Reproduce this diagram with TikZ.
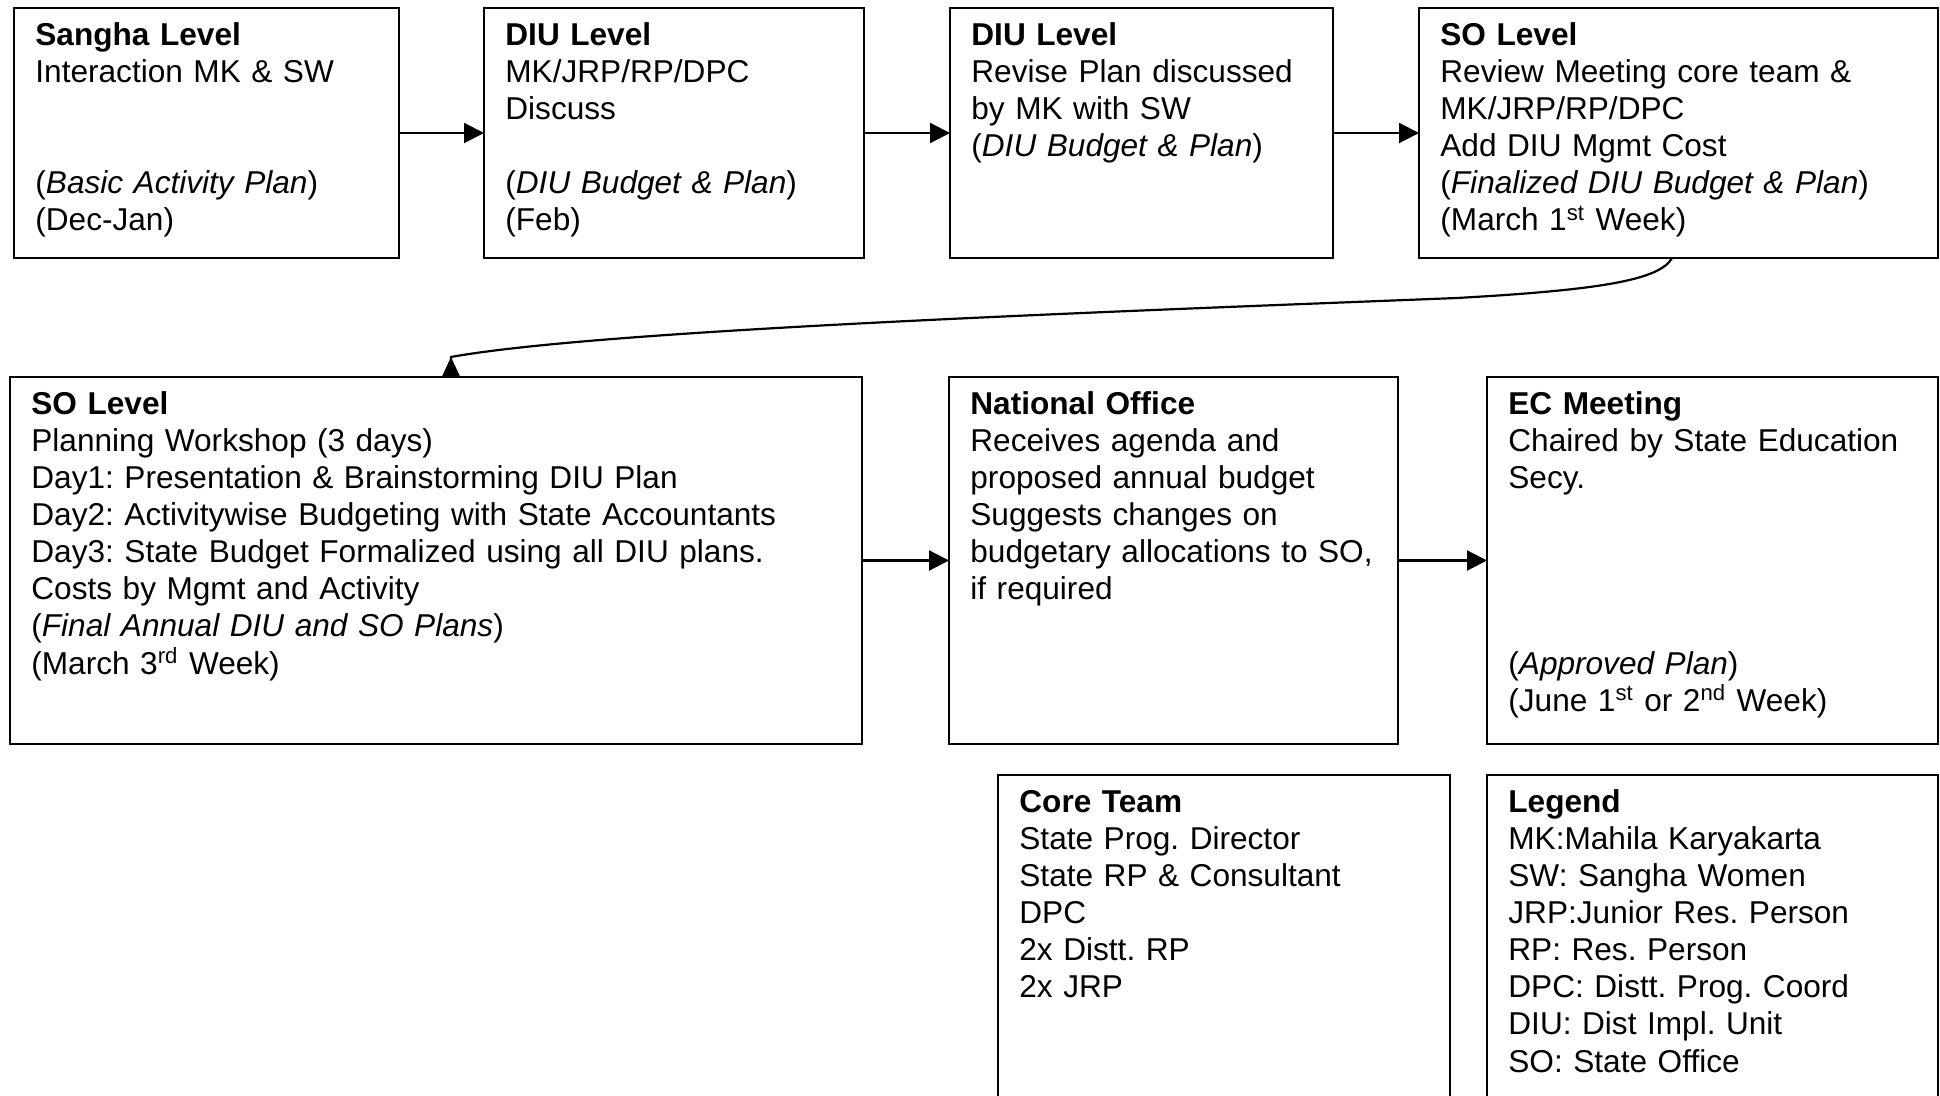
\documentclass[tikz,border=0pt]{standalone}
\usepackage{fontspec}
\setmainfont{Liberation Sans}
\usetikzlibrary{arrows.meta,calc}
\frenchspacing

% one unit = one pixel of the 1940 x 1096 sheet, y running downwards
\tikzset{
  stage/.style={draw=black, line width=1.2pt, rectangle, inner sep=0pt,
    outer sep=0pt, anchor=north west},
  stagetext/.style={anchor=north west, inner sep=0pt, align=left,
    font=\fontsize{15.8}{18.55}\selectfont},
  flow/.style={line width=1.1pt, -{Triangle[length=10pt,width=10pt]}},
  backflow/.style={line width=1.1pt, -{Triangle[reversed,length=10pt,width=9pt]}},
}

% \stagebox{name}{x1}{y1}{x2}{y2}{lines}
\newcommand\stagebox[6]{%
  \pgfmathsetmacro\stagew{(#4-#2)*0.5}%
  \pgfmathsetmacro\stageh{(#5-#3)*0.5}%
  \pgfmathsetmacro\stagetw{(#4-#2-24)*0.5}%
  \node[stage, minimum width=\stagew pt, minimum height=\stageh pt] (#1) at (#2,#3) {};
  \node[stagetext, text width=\stagetw pt] (#1-text) at ($(#1.north west)+(21,11)$) {\strut #6};
}
\newcommand\gapline{\mbox{}}

\begin{document}
\begin{tikzpicture}[x=0.5pt, y=-0.5pt]
\useasboundingbox (0,0) rectangle (1940,1096);
\clip (0,0) rectangle (1940,1096);

% first row
\stagebox{sangha}{14}{8}{399}{258}{\textbf{Sangha Level}\\
  Interaction MK \& SW\\ \gapline\\ \gapline\\
  (\textit{Basic Activity Plan})\\
  (Dec-Jan)}
\stagebox{diua}{484}{8}{864}{258}{\textbf{DIU Level}\\
  MK/JRP/RP/DPC\\
  Discuss\\ \gapline\\
  (\textit{DIU Budget \& Plan})\\
  (Feb)}
\stagebox{diub}{950}{8}{1333}{258}{\textbf{DIU Level}\\
  Revise Plan discussed\\
  by MK with SW\\
  (\textit{DIU Budget \& Plan})}
\stagebox{soa}{1419}{8}{1938}{258}{\textbf{SO Level}\\
  Review Meeting core team \&\\
  MK/JRP/RP/DPC\\
  Add DIU Mgmt Cost\\
  (\textit{Finalized DIU Budget \& Plan})\\
  (March 1\textsuperscript{st} Week)}

% second row
\stagebox{sob}{10}{377}{862}{744}{\textbf{SO Level}\\
  Planning Workshop (3 days)\\
  Day1: Presentation \& Brainstorming DIU Plan\\
  Day2: Activitywise Budgeting with State Accountants\\
  Day3: State Budget Formalized using all DIU plans.\\
  Costs by Mgmt and Activity\\
  (\textit{Final Annual DIU and SO Plans})\\
  (March 3\textsuperscript{rd} Week)}
\stagebox{natoff}{949}{377}{1398}{744}{\textbf{National Office}\\
  Receives agenda and\\
  proposed annual budget\\
  Suggests changes on\\
  budgetary allocations to SO,\\
  if required}
\stagebox{ec}{1487}{377}{1938}{744}{\textbf{EC Meeting}\\
  Chaired by State Education\\
  Secy.\\ \gapline\\ \gapline\\ \gapline\\ \gapline\\
  (\textit{Approved Plan})\\
  (June 1\textsuperscript{st} or 2\textsuperscript{nd} Week)}

% third row
\stagebox{core}{998}{775}{1450}{1130}{\textbf{Core Team}\\
  State Prog. Director\\
  State RP \& Consultant\\
  DPC\\
  2x Distt. RP\\
  2x JRP}
\stagebox{legend}{1487}{775}{1938}{1130}{\textbf{Legend}\\
  MK:Mahila Karyakarta\\
  SW: Sangha Women\\
  JRP:Junior Res. Person\\
  RP: Res. Person\\
  DPC: Distt. Prog. Coord\\
  DIU: Dist Impl. Unit\\
  SO: State Office}

% connectors
\draw[flow] (sangha) -- (diua);
\draw[flow] (diua) -- (diub);
\draw[flow] (diub) -- (soa);
\draw[flow] (sob) -- (natoff);
\draw[flow] (natoff) -- (ec);

\coordinate (cstart) at ($(soa.south west)+(253,0)$);
\coordinate (cmid) at (1457,298);
\coordinate (cend) at ($(sob.north west)+(441,0)$);
\coordinate (capex) at ($(cend)+(0,-20)$);
\draw[backflow] (cstart) .. controls +(-12,22) and +(143,-8) .. (cmid)
  .. controls +(-357,14) and +(149,-27) .. (capex) -- (cend);
\end{tikzpicture}
\end{document}
